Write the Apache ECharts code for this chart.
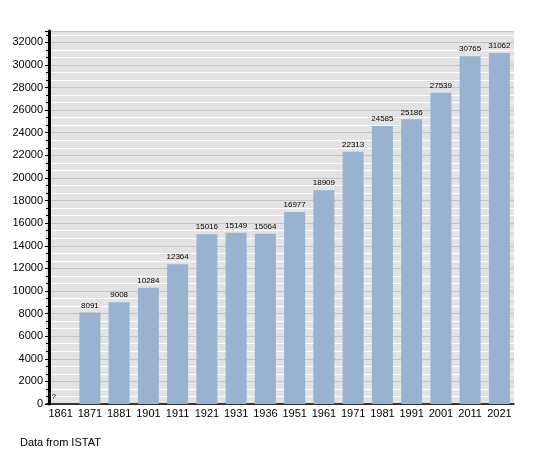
<!DOCTYPE html>
<html>
<head>
<meta charset="utf-8">
<script src="https://cdn.jsdelivr.net/npm/echarts@6/dist/echarts.min.js"></script>
<style>
  html, body { margin: 0; padding: 0; background: #fff; }
  #main { width: 540px; height: 453px; }
</style>
</head>
<body>
<div id="main"></div>
<script>
// census years and population (1861 unknown)
var years = ['1861', '1871', '1881', '1901', '1911', '1921', '1931', '1936',
             '1951', '1961', '1971', '1981', '1991', '2001', '2011', '2021'];
var population = [null, 8091, 9008, 10284, 12364, 15016, 15149, 15064,
                  16977, 18909, 22313, 24585, 25186, 27539, 30765, 31062];

var font = 'Liberation Sans, Arial, sans-serif';

var barData = population.map(function (v) {
	if (v === null) {
		// unknown value: show a "?" at the bottom
		return {
			value: 0,
			label: { formatter: '?', offset: [-7, 0] }
		};
	}
	return v;
});

var myChart = echarts.init(document.getElementById('main'));

var option = {
	animation: false,
	title: {
		text: 'Data from ISTAT',
		left: 15,
		top: 432,
		textStyle: { fontFamily: font, fontSize: 11, fontWeight: 'normal', color: '#000' }
	},
	grid: {
		left: 46,
		right: 26,
		top: 31,
		bottom: 49,
		show: true,
		backgroundColor: '#e3e3e3',
		borderWidth: 0
	},
	xAxis: {
		type: 'category',
		data: years,
		axisLine: { lineStyle: { color: '#000', width: 1.5 } },
		axisTick: { show: false },
		axisLabel: { color: '#000', fontFamily: font, fontSize: 11, margin: 4, interval: 0 }
	},
	yAxis: {
		type: 'value',
		min: 0,
		max: 33000,
		interval: 2000,
		offset: -3,
		axisLine: { show: true, lineStyle: { color: '#000', width: 3 } },
		axisTick: { show: true, length: 4, inside: false, lineStyle: { color: '#000', width: 1 } },
		minorTick: { show: true, splitNumber: 3, length: 3, lineStyle: { color: '#000', width: 1 } },
		axisLabel: {
			color: '#000', fontFamily: font, fontSize: 11, margin: 6, showMaxLabel: false,
			formatter: function (v) { return String(v); }
		},
		splitLine: { show: true, lineStyle: { color: '#c4c4c4', width: 1 } },
		minorSplitLine: { show: true, lineStyle: { color: '#ffffff', width: 1 } }
	},
	series: [{
		type: 'bar',
		data: barData,
		barWidth: 21,
		itemStyle: { color: '#98b2cf' },
		label: {
			show: true,
			position: 'top',
			distance: 3,
			color: '#000',
			fontFamily: font,
			fontSize: 8
		}
	}]
};

myChart.setOption(option);
</script>
</body>
</html>
